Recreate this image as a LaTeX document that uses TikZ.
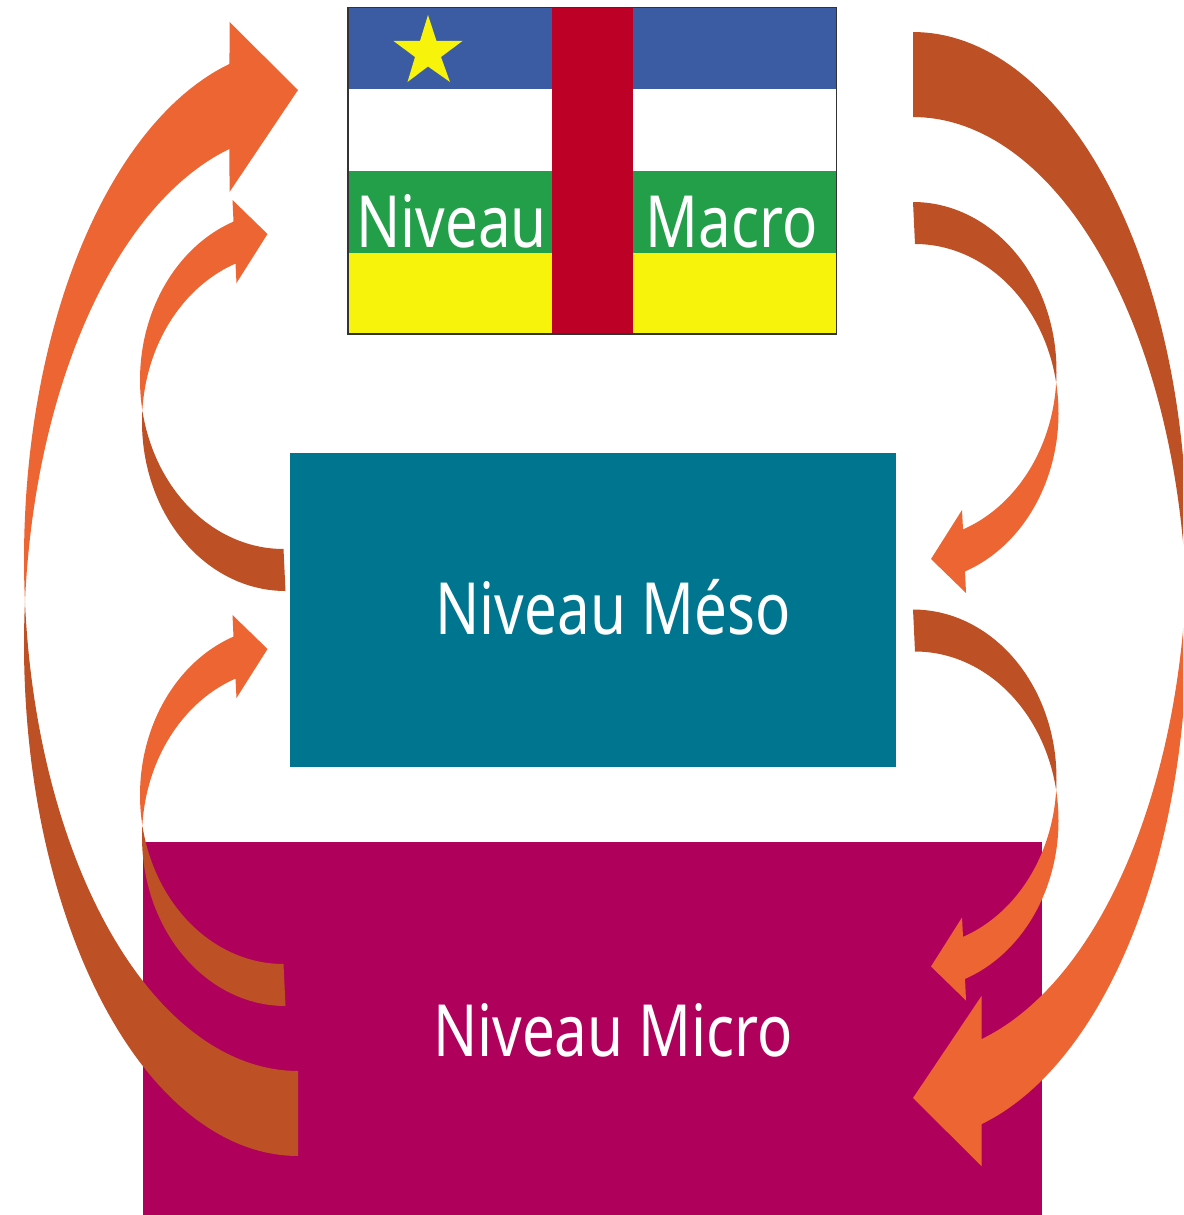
\documentclass[tikz,border=0pt]{standalone}
\usepackage{fontspec}
\setmainfont{Noto Sans}
\definecolor{arrowfront}{HTML}{EC6533}
\definecolor{arrowback}{HTML}{BE5026}
\definecolor{mesofill}{HTML}{00758F}
\definecolor{microfill}{HTML}{AF005C}
\definecolor{flagblue}{HTML}{3B5BA3}
\definecolor{flaggreen}{HTML}{239F4A}
\definecolor{flagyellow}{HTML}{F8F30A}
\definecolor{flagred}{HTML}{BD0026}
\tikzset{
  levelbox/.style={rectangle,inner sep=0pt,outer sep=0pt,anchor=north west},
  levellabel/.style={text=white,inner sep=0pt,font=\fontsize{72}{80}\selectfont,anchor=base},
  front/.style={fill=arrowfront,draw=none},
  back/.style={fill=arrowback,draw=none}
}
\newcommand{\condensed}[1]{\scalebox{.81}[1]{#1}}
\newcommand{\bigcurve}{%
  \fill[back] plot[domain=90:184.76,samples=70] ({298+274*cos(\x)},{644.3+511.7*sin(\x)})
    -- plot[domain=175.24:90,samples=70] ({298+274*cos(\x)},{559.3+511.7*sin(\x)}) -- cycle;
  \fill[front] plot[domain=255.52:175.24,samples=70] ({298+274*cos(\x)},{559.3+511.7*sin(\x)})
    -- plot[domain=184.76:255.52,samples=70] ({298+274*cos(\x)},{644.3+511.7*sin(\x)})
    -- (229.5,192) -- (298,90) -- (229.5,22) -- cycle;
}
\newcommand{\smallcurve}{%
  \fill[back] plot[domain=90:183.73,samples=60] ({285.5+143.5*cos(\x)},{422+169*sin(\x)})
    -- plot[domain=169.43:90,samples=60] ({283.5+143.5*cos(\x)},{380+169*sin(\x)}) -- cycle;
  \fill[front] plot[domain=249.6:169.43,samples=60] ({283.5+143.5*cos(\x)},{380+169*sin(\x)})
    -- plot[domain=183.73:249.6,samples=60] ({285.5+143.5*cos(\x)},{422+169*sin(\x)})
    -- (236.5,283) -- (267.5,234) -- (232.5,200) -- cycle;
}
\begin{document}
\begin{tikzpicture}[x=1pt,y=-1pt]
\useasboundingbox (0,0) rectangle (1183,1215);
\clip (0,0) rectangle (1183,1215);
% flag
\fill[flagblue] (348,7.5) rectangle (836.5,89);
\fill[white] (348,89) rectangle (836.5,171);
\fill[flaggreen] (348,171) rectangle (836.5,252.5);
\fill[flagyellow] (348,252.5) rectangle (836.5,334);
\fill[flagred] (552,7.5) rectangle (633,334);
\draw[black!80,line width=1.5pt] (348,7.5) rectangle (836.5,334);
\fill[flagyellow] (428,15) -- (436.5,41) -- (462.5,41) -- (441,57) -- (450,82) -- (428,66.5)
  -- (407.5,82) -- (415,57) -- (393.5,41) -- (420,41) -- cycle;
\node[levellabel] (macroleft) at (451.5,247) {\condensed{Niveau}};
\node[levellabel] (macroright) at (731.5,247) {\condensed{Macro}};
% level boxes
\node[levelbox,fill=mesofill,minimum width=605.5pt,minimum height=313.5pt] (mesobox) at (290,453) {};
\node[levelbox,fill=microfill,minimum width=899pt,minimum height=373pt] (microbox) at (143,842) {};
\node[levellabel] (mesolabel) at (613,634) {\condensed{Niveau Méso}};
\node[levellabel] (microlabel) at (613,1056) {\condensed{Niveau Micro}};
% arrows
\bigcurve
\begin{scope}[shift={(1211,1188)},xscale=-1,yscale=-1]\bigcurve\end{scope}
\smallcurve
\begin{scope}[shift={(0,415)}]\smallcurve\end{scope}
\begin{scope}[shift={(1198.5,793)},xscale=-1,yscale=-1]\smallcurve\end{scope}
\begin{scope}[shift={(1198.5,1200.5)},xscale=-1,yscale=-1]\smallcurve\end{scope}
\end{tikzpicture}
\end{document}
